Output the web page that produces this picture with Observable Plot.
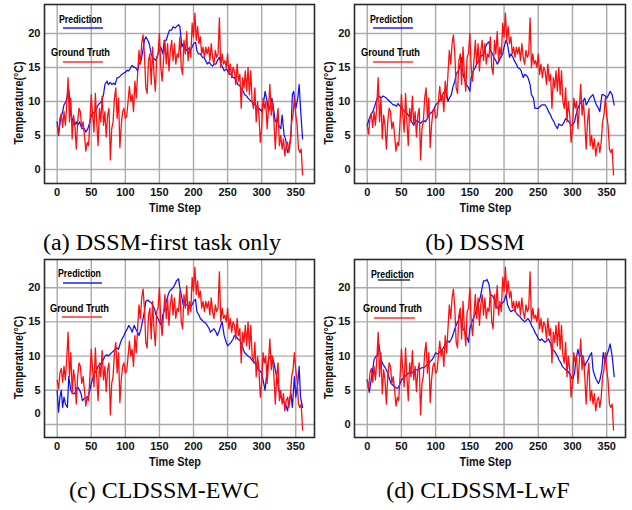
<!DOCTYPE html>
<html>
<head>
<meta charset="utf-8">
<script src="https://cdn.jsdelivr.net/npm/d3@7"></script>
<script src="https://cdn.jsdelivr.net/npm/@observablehq/plot@0.6"></script>
<style>
  html, body { margin: 0; padding: 0; background: #fff; }
  #root { position: relative; width: 632px; height: 510px; overflow: hidden; background: #fff; }
  .panel { position: absolute; z-index: 1; }
  .cap { position: absolute; z-index: 2; font-family: "Liberation Serif", "Times New Roman", serif; font-size: 24px; color: #000; white-space: nowrap; transform: translateX(-50%); line-height: 1; }
</style>
</head>
<body>
<div id="root"></div>
<script>
// ---------------- data ----------------
const xTicks = [0, 50, 100, 150, 200, 250, 300, 350];
const yTicks = [0, 5, 10, 15, 20];
const captions = ["(a) DSSM-first task only", "(b) DSSM", "(c) CLDSSM-EWC", "(d) CLDSSM-LwF"];
const legendLabels = ["Prediction", "Ground Truth"];
const xTitle = "Time Step";
const yTitle = "Temperature(°C)";

// ground truth, one value every 2 time steps (t = 0, 2, ..., 360)
const truthStep = 2;
const truth = [
  6.5, 5.2, 7.5, 8.2, 6.2, 8.5, 6.5, 9.5, 13.5, 7, 10.5, 4.5, 8, 6.5, 3, 7, 9, 8.5, 6, 7,
  5, 2.7, 4, 3.5, 7, 11, 8, 5.5, 11.2, 7, 3.5, 9, 7, 10.8, 6.5, 8.5, 4.8, 8, 9, 1.4,
  6, 7, 10.5, 12, 7.5, 10.5, 3.2, 6.5, 8.5, 9, 7.5, 7.8, 10, 12.2, 10, 11, 8.5, 13, 10.5, 14,
  17.5, 15.5, 18.5, 19.8, 17, 12, 11.2, 16, 17, 12.5, 18, 14, 11.5, 16.5, 17, 20, 15, 13, 16, 19,
  15.5, 18.5, 14.5, 17.5, 19, 16, 18.5, 15.5, 17, 16.5, 19.5, 15, 14, 19, 17, 20.3, 16, 18, 16.5, 21.5,
  19.5, 23, 19, 21, 18.5, 19.5, 17, 18, 16.5, 18, 17, 18, 16, 18.5, 16.5, 15.5, 17.5, 16.5, 17, 22.3,
  15, 17, 15.5, 16, 15, 17, 14, 15.5, 13.5, 15, 14.5, 12.5, 15.5, 13, 14, 9, 13.5, 12, 14.5, 11.5,
  15, 11, 14.5, 10, 9, 12, 7, 10, 8, 4, 6, 10.5, 9, 10, 6, 9, 12.5, 8, 10, 7,
  3, 7, 9, 3.5, 5, 3, 4.5, 2, 3.5, 4, 2.5, 4, 7, 8, 10.5, 8, 6.5, 3, 2.5, 3,
  -0.8
];

// predictions: [time step, value]
const predFirstTask = [
  [0,7],[2,5],[5,7.5],[8,8.5],[10,9.5],[13,10],[17,11.8],[20,8],[22,7.5],[25,6.5],[28,7],[30,6.5],[33,7],[36,6],[40,6],[42,5.5],[45,6],[48,7],[50,8],[55,8.5],[58,9],[60,9.5],[65,10],[68,11],[70,12.5],[73,13],[75,12.5],[78,12.8],[80,12.5],[83,12.7],[85,12.5],[88,13.5],[90,13.5],[93,13.8],[95,14],[98,14.2],[100,14.3],[103,14.6],[105,14.5],[108,15],[110,15.3],[113,15],[115,15],[118,14.5],[120,15.5],[123,16],[125,17],[128,19],[130,19.5],[133,19],[135,18.5],[138,17],[140,16.5],[143,16.2],[145,16],[148,17],[150,17.5],[152,18],[155,17],[157,19],[160,19],[163,20],[165,20.5],[168,20.5],[170,21],[173,20.8],[175,21],[178,21.3],[180,21],[183,18],[185,18.5],[188,17.8],[190,17.5],[193,17.8],[195,17.5],[198,18],[200,18.5],[203,18.7],[205,17.5],[207,17],[210,17],[213,16.5],[215,16.5],[218,16],[220,15.5],[223,15.8],[225,15.5],[228,15.2],[230,15.5],[233,15.5],[235,16],[238,16.5],[240,15.5],[243,15],[245,14.5],[248,14.8],[250,14.5],[253,14],[255,14],[258,13.5],[260,13.5],[263,13],[265,12.5],[268,12.3],[270,12],[273,11.5],[275,11],[278,10.8],[280,10.5],[283,10.2],[285,10],[288,9.8],[290,9.5],[293,9.2],[295,9],[298,8.8],[300,8.5],[303,10],[305,11.5],[308,10],[310,8.5],[313,9.5],[315,10.5],[318,8.5],[320,7],[323,7.5],[325,6.5],[328,6],[330,8],[333,5],[335,4.5],[338,2.5],[340,3],[343,5],[345,11],[347,11.5],[350,9],[353,10.5],[355,12.5],[357,9],[360,4.5]
];
const predDSSM = [
  [0,6.5],[3,7.5],[5,8],[8,8.5],[10,9],[13,10],[15,10.5],[18,10.8],[20,10.5],[23,10.8],[25,10.7],[28,10.5],[30,10.3],[33,10],[35,9.8],[38,9.5],[40,9.5],[43,9.3],[45,9.7],[48,9.3],[50,9],[53,8.7],[55,8.5],[58,8.3],[60,8],[63,7.5],[65,7],[68,6.5],[70,7],[73,7.2],[75,7],[78,6.8],[80,7],[83,7.2],[85,7],[88,7.5],[90,8],[93,8.3],[95,8.5],[98,9],[100,9.5],[103,9.8],[105,10],[108,10.5],[110,11],[113,11.5],[115,12],[118,10],[120,10.5],[123,11],[125,12],[128,13],[130,14],[133,14.5],[135,15],[138,16.5],[140,14],[143,13],[145,12.5],[148,12],[150,11.5],[152,13.5],[155,14.5],[158,15],[160,15.5],[163,16],[165,16.5],[168,16.8],[170,17],[173,18],[175,18.5],[178,18.8],[180,17.5],[183,17],[185,16.5],[188,16],[190,15.5],[193,16],[195,16.5],[198,17],[200,18],[203,19],[205,18.5],[208,16.5],[210,17],[213,16.5],[215,16],[218,15.5],[220,15],[223,14.8],[225,14.5],[228,13.5],[230,14],[233,13.8],[235,13.5],[238,12.5],[240,11],[243,10.5],[245,9],[248,9],[250,9],[253,9.3],[255,9.5],[258,9.5],[260,9.5],[263,9],[265,8.5],[268,8],[270,7.5],[273,7],[275,6.5],[278,6],[280,6.7],[283,6.5],[285,6.5],[288,7],[290,7.5],[293,7.2],[295,7],[298,6.5],[300,6.5],[303,7],[305,8],[308,9],[310,9.5],[313,10],[315,10],[318,10.5],[320,9.5],[323,10],[325,10.5],[328,10.8],[330,11],[333,10],[335,9.5],[338,9],[340,8.5],[343,11],[345,11],[348,10.8],[350,10.5],[353,11],[355,11.5],[358,11],[361,9.5]
];
const predEWC = [
  [0,5],[2,1.8],[4,4],[6,5],[8,2.5],[10,4],[12,3],[15,2.5],[17,7],[20,5],[23,4.5],[25,4.5],[28,5],[30,5.5],[33,5],[35,4.5],[37,3.5],[40,3.8],[43,4],[45,4],[48,5],[50,6],[53,7],[55,7.5],[58,8],[60,8.5],[63,8.8],[65,9],[68,9.5],[70,10],[73,10.2],[75,10],[78,10.3],[80,10.5],[83,10.8],[85,11],[88,11.2],[90,11],[93,12],[95,12.5],[98,13],[100,13.5],[103,14],[105,14.5],[108,14],[110,13.5],[113,14.5],[115,14],[118,13.5],[120,13],[123,14],[125,15],[128,16.5],[130,18],[133,18.2],[135,18],[138,17.8],[140,17.5],[143,16.8],[145,16],[148,15.5],[150,15],[153,14.5],[155,16],[158,17],[160,18],[163,19],[165,19.5],[168,19.8],[170,20],[173,20.5],[175,21],[178,21.3],[180,20],[183,18.5],[185,17.5],[188,17.5],[190,17.5],[193,17.2],[195,17],[198,17.5],[200,18],[203,18.3],[205,16.5],[208,16],[210,15.5],[213,15.2],[215,15],[218,14.8],[220,14.5],[223,14],[225,13.5],[228,13.8],[230,14],[233,13.5],[235,13],[238,13.8],[240,14.5],[242,15],[245,13],[248,12],[250,11.5],[253,11.8],[255,12],[258,12.5],[260,13],[263,12.8],[265,12.5],[268,12.3],[270,12],[273,11],[275,10.5],[278,10.2],[280,10],[283,9.8],[285,9.5],[288,9.2],[290,9],[293,8.5],[295,8],[298,7.8],[300,7.5],[303,6],[305,5],[307,7],[310,9.5],[313,10],[315,10],[318,9],[320,8],[323,6.5],[325,5],[328,4],[330,3.5],[333,3.2],[335,3],[338,2],[340,3.5],[343,4.5],[345,2.5],[348,7],[350,4],[353,6],[355,8.5],[357,4],[360,2.5]
];
const predLwF = [
  [0,6.5],[3,4.7],[5,6],[8,8],[10,9.5],[13,10],[15,10],[17,11.8],[20,9.5],[23,8.8],[25,8.5],[28,8],[30,7.5],[33,6.5],[35,6],[38,5.7],[40,5.5],[43,5.3],[45,5.3],[48,6],[50,6.5],[53,6.8],[55,7],[58,7.3],[60,7.5],[63,7.5],[65,7.5],[68,7.8],[70,8],[73,8],[75,8],[78,8.2],[80,8.3],[83,8.3],[85,8.5],[88,8.8],[90,9],[93,9.3],[95,9.5],[98,10],[100,10.5],[103,10.3],[105,10.5],[108,10.8],[110,11],[113,11.5],[115,12],[118,12.2],[120,12],[123,12.5],[125,13],[128,14],[130,14.5],[133,15.2],[135,16],[138,15],[140,14],[143,13.5],[145,13],[148,12],[150,14],[153,15],[155,15.5],[158,16.2],[160,17],[163,17.8],[165,18.5],[168,20],[170,21],[173,21],[175,21.2],[178,20.5],[180,19],[183,18.8],[185,18.5],[188,17.5],[190,17],[193,17.2],[195,17.5],[198,17.8],[200,18],[203,19],[205,17.5],[208,16.8],[210,16.5],[213,16.7],[215,16.8],[218,16.3],[220,16],[223,15.8],[225,15.5],[228,15.2],[230,15],[233,15.3],[235,15.5],[238,15],[240,14.5],[243,14],[245,13.5],[248,13],[250,12.5],[253,12.3],[255,12.5],[258,12.2],[260,12],[263,12.3],[265,12.5],[268,11.8],[270,11],[273,10.8],[275,10.5],[278,10],[280,9.5],[283,9],[285,8.5],[288,8.2],[290,8],[293,7.8],[295,7.5],[298,7],[300,6.5],[303,7.5],[305,9.5],[308,11],[310,10],[313,10.2],[315,10],[318,8.5],[320,9],[323,9.5],[325,10],[328,10.5],[330,8],[333,7],[335,6.5],[338,6],[340,6.5],[343,8],[345,10.5],[348,9],[350,10],[353,11],[355,11.8],[358,10],[361,7]
];

// ---------------- drawing ----------------
const truthRows = truth.map((v, i) => ({t: i * truthStep, v}));
const predictions = [predFirstTask, predDSSM, predEWC, predLwF];

const SANS = "'Liberation Sans', Arial, Helvetica, sans-serif";
const NARROW = "'Liberation Sans Narrow', 'Liberation Sans', Arial, sans-serif";

const layout = [
  {left: 0,   top: 0,   height: 225, ml: 44, mr: 2, mt: 4, mb: 42, yDom: [-2.06, 24.26], zeroShift: 0,   predUnderline: "#1f1fff", pred: {tx: 15, ty: 19, x1: 19, x2: 59, ly: 24}, gt: {tx: 7, ty: 52, x1: 19, x2: 59, ly: 58}, cap: {x: 162, y: 230}},
  {left: 316, top: 0,   height: 225, ml: 38, mr: 7, mt: 4, mb: 42, yDom: [-2.06, 24.26], zeroShift: 0,   predUnderline: "#1f1fff", pred: {tx: 16, ty: 19, x1: 19, x2: 59, ly: 24}, gt: {tx: 7, ty: 52, x1: 19, x2: 59, ly: 58}, cap: {x: 475, y: 230}},
  {left: 0,   top: 250, height: 230, ml: 44, mr: 2, mt: 9, mb: 43, yDom: [-1.9, 24.12],  zeroShift: -11, predUnderline: "#1f1fff", pred: {tx: 14, ty: 18, x1: 19, x2: 58, ly: 24}, gt: {tx: 6, ty: 53, x1: 18, x2: 58, ly: 58}, cap: {x: 164, y: 478}},
  {left: 316, top: 250, height: 230, ml: 38, mr: 7, mt: 9, mb: 43, yDom: [-1.9, 24.12],  zeroShift: 0,   predUnderline: "#222",    pred: {tx: 17, ty: 19, x1: 24, x2: 56, ly: 21}, gt: {tx: 9, ty: 53, x1: 20, x2: 61, ly: 59}, cap: {x: 478, y: 478}}
];

function annotations(L, width) {
  return () => {
    const g = d3.create("svg:g");
    const fx0 = L.ml, fx1 = width - L.mr, fy0 = L.mt, fy1 = L.height - L.mb;
    const cx = (fx0 + fx1) / 2, cy = (fy0 + fy1) / 2;
    // axis titles
    g.append("text").attr("x", cx - 4).attr("y", fy1 + 29)
      .attr("text-anchor", "middle").attr("font-family", NARROW).attr("font-weight", "bold")
      .attr("font-size", 13.5).attr("textLength", 52).attr("lengthAdjust", "spacingAndGlyphs")
      .attr("fill", "#111").text(xTitle);
    g.append("text").attr("transform", `translate(${fx0 - 21},${cy + 9.5}) rotate(-90)`)
      .attr("text-anchor", "middle").attr("font-family", NARROW).attr("font-weight", "bold")
      .attr("font-size", 12.5).attr("textLength", 83).attr("lengthAdjust", "spacingAndGlyphs")
      .attr("fill", "#111").text(yTitle);
    // legend
    g.append("text").attr("x", fx0 + L.pred.tx).attr("y", fy0 + L.pred.ty)
      .attr("text-anchor", "start")
      .attr("font-family", NARROW).attr("font-weight", "bold").attr("font-size", 11)
      .attr("textLength", 43).attr("lengthAdjust", "spacingAndGlyphs").attr("fill", "#000").text(legendLabels[0]);
    g.append("line").attr("x1", fx0 + L.pred.x1).attr("x2", fx0 + L.pred.x2)
      .attr("y1", fy0 + L.pred.ly).attr("y2", fy0 + L.pred.ly)
      .attr("stroke", L.predUnderline).attr("stroke-width", 1.4);
    g.append("text").attr("x", fx0 + L.gt.tx).attr("y", fy0 + L.gt.ty)
      .attr("text-anchor", "start")
      .attr("font-family", NARROW).attr("font-weight", "bold").attr("font-size", 11)
      .attr("textLength", 59).attr("lengthAdjust", "spacingAndGlyphs").attr("fill", "#000").text(legendLabels[1]);
    g.append("line").attr("x1", fx0 + L.gt.x1).attr("x2", fx0 + L.gt.x2)
      .attr("y1", fy0 + L.gt.ly).attr("y2", fy0 + L.gt.ly)
      .attr("stroke", "#ff3030").attr("stroke-width", 1.4);
    return g.node();
  };
}

const root = document.getElementById("root");
const capNodes = [];
layout.forEach((L, i) => {
  const width = 316;
  const predRows = predictions[i].map(([t, v]) => ({t, v}));
  const yAxisMarks = L.zeroShift
    ? [
        Plot.axisY(yTicks.filter(d => d !== 0), {tickSize: 0, tickPadding: 4, fontSize: 11, fontWeight: "bold", label: null}),
        Plot.axisY([0], {tickSize: 0, tickPadding: 4, fontSize: 11, fontWeight: "bold", label: null, dy: L.zeroShift})
      ]
    : [Plot.axisY(yTicks, {tickSize: 0, tickPadding: 4, fontSize: 11, fontWeight: "bold", label: null})];
  const chart = Plot.plot({
    width, height: L.height,
    marginLeft: L.ml, marginRight: L.mr, marginTop: L.mt, marginBottom: L.mb,
    style: {fontFamily: SANS, fontSize: "11px", color: "#111", background: "transparent", overflow: "visible"},
    x: {domain: [-18.6, 377.5]},
    y: {domain: L.yDom},
    marks: [
      Plot.gridX(xTicks, {stroke: "#aaaaaa", strokeOpacity: 1, strokeWidth: 1.4}),
      Plot.gridY(yTicks, {stroke: "#aaaaaa", strokeOpacity: 1, strokeWidth: 1.4}),
      Plot.line(predRows, {x: "t", y: "v", stroke: "#1010ff", strokeWidth: 1.25}),
      Plot.line(truthRows, {x: "t", y: "v", stroke: "#ff1010", strokeWidth: 1.3}),
      Plot.frame({stroke: "#2b2b2b", strokeWidth: 1.6}),
      Plot.axisX(xTicks, {tickSize: 0, tickPadding: 5, fontSize: 11, fontWeight: "bold", label: null}),
      ...yAxisMarks,
      annotations(L, width)
    ]
  });
  const wrap = document.createElement("div");
  wrap.className = "panel";
  wrap.style.left = L.left + "px";
  wrap.style.top = L.top + "px";
  wrap.appendChild(chart);
  root.appendChild(wrap);

  const cap = document.createElement("div");
  cap.className = "cap";
  cap.style.left = L.cap.x + "px";
  cap.style.top = L.cap.y + "px";
  cap.textContent = captions[i];
  capNodes.push(cap);
});
capNodes.forEach(c => root.appendChild(c));
</script>
</body>
</html>
